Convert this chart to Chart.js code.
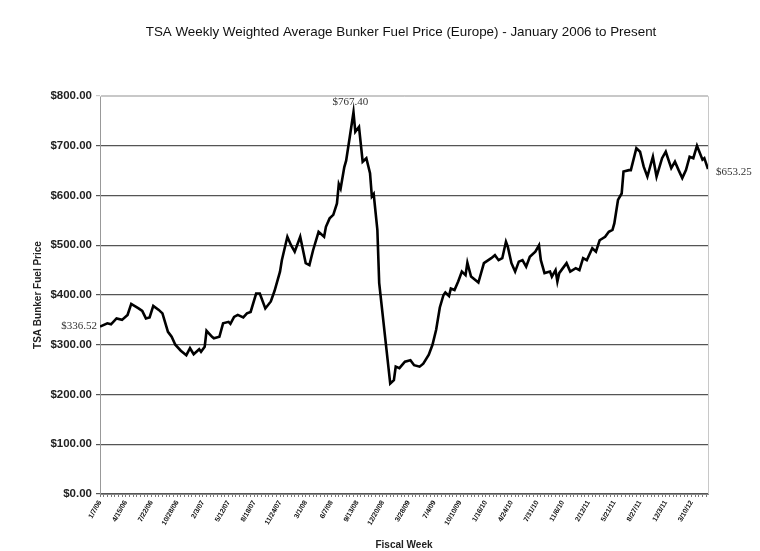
<!DOCTYPE html>
<html>
<head>
<meta charset="utf-8">
<script src="https://cdn.jsdelivr.net/npm/chart.js@4"></script>
<style>
  html, body { margin: 0; padding: 0; background: #fff; }
</style>
</head>
<body>
<canvas id="fuelChart" width="760" height="551"></canvas>
<script>
// weeks since 1/7/06 and the weighted price for that week
const weeks = [0, 4, 6, 9, 12, 15, 17, 21, 23, 25, 27, 29, 32, 34, 37, 39, 41, 44, 47, 49,
  51, 54, 55, 57, 58, 61, 62, 65, 67, 70, 71, 73, 75, 78, 80, 82, 85, 87, 90, 93,
  95, 98, 99, 102, 104, 106, 109, 112, 114, 116, 119, 122, 123, 125, 127, 129, 130, 131, 133, 134,
  136, 138, 139, 141, 143, 145, 147, 148, 149, 151, 152, 156, 158, 160, 161, 163, 166, 169, 171, 174,
  176, 179, 181, 183, 185, 187, 188, 190, 191, 193, 195, 197, 199, 200, 202, 206, 209, 211, 213, 215,
  217, 219, 221, 222, 224, 226, 228, 230, 232, 234, 237, 239, 240, 242, 245, 246, 248, 249, 250, 252,
  254, 256, 259, 261, 263, 265, 268, 270, 272, 275, 277, 279, 280, 282, 284, 285, 288, 289, 292, 294,
  296, 298, 301, 303, 306, 308, 311, 313, 315, 317, 319, 321, 323, 325, 328, 329, 331];
const prices = [336.52, 343, 341, 353, 350, 360, 382, 373, 368, 353, 355, 378, 370, 363, 326, 316, 300, 288, 279, 293,
  281, 291, 286, 296, 328, 316, 313, 316, 343, 346, 342, 356, 360, 355, 363, 366, 403, 403, 373, 387,
  408, 447, 470, 517, 500, 487, 517, 464, 460, 490, 527, 517, 537, 554, 561, 584, 623, 614, 657, 670,
  718, 767.40, 728, 738, 668, 675, 645, 598, 603, 531, 424, 289, 222, 229, 256, 253, 266, 269, 259, 256,
  262, 280, 300, 330, 375, 400, 405, 398, 413, 410, 427, 447, 440, 465, 437, 425, 464, 469, 474, 480,
  470, 474, 507, 497, 464, 447, 467, 470, 457, 477, 487, 500, 470, 444, 447, 437, 450, 427, 444, 454,
  464, 447, 454, 450, 474, 470, 494, 487, 510, 517, 527, 531, 544, 591, 604, 648, 651, 651, 695, 688,
  658, 638, 678, 638, 675, 688, 655, 668, 651, 635, 651, 678, 675, 700, 672, 675, 653.25];

const tickLabels = ['1/7/06', '4/15/06', '7/22/06', '10/28/06', '2/3/07', '5/12/07', '8/18/07', '11/24/07',
  '3/1/08', '6/7/08', '9/13/08', '12/20/08', '3/28/09', '7/4/09', '10/10/09', '1/16/10', '4/24/10',
  '7/31/10', '11/6/10', '2/12/11', '5/21/11', '8/27/11', '12/3/11', '3/10/12'];
const labelEvery = 14;
const lastWeek = 331;

const chartTitle = 'TSA Weekly Weighted Average Bunker Fuel Price (Europe) - January 2006 to Present';
const sans = "Arial, 'Liberation Sans', sans-serif";
const serif = "'Times New Roman', 'Liberation Serif', serif";

// value callouts: first point, the peak, and the latest week
const peakIdx = prices.indexOf(Math.max(...prices));
const callouts = [
  { idx: 0, align: 'right', dx: -3, dy: 0 },
  { idx: peakIdx, align: 'center', dx: -3, dy: -10 },
  { idx: prices.length - 1, align: 'left', dx: 8, dy: 3 }
];

const extras = {
  id: 'extras',
  beforeDatasetsDraw(chart) {
    const { ctx, chartArea: a } = chart;
    ctx.save();
    // light frame on top and right of the plot
    ctx.strokeStyle = '#c8c8c8';
    ctx.lineWidth = 1;
    ctx.beginPath();
    ctx.moveTo(a.left, a.top + 0.5);
    ctx.lineTo(a.right + 0.5, a.top + 0.5);
    ctx.lineTo(a.right + 0.5, a.bottom);
    ctx.stroke();
    // title, centred on the page rather than the plot
    ctx.font = '13.4px ' + sans;
    ctx.fillStyle = '#111';
    ctx.textAlign = 'center';
    ctx.textBaseline = 'middle';
    ctx.fillText(chartTitle, 401, 32);
    ctx.restore();
  },
  afterDatasetsDraw(chart) {
    const { ctx, scales: { x, y } } = chart;
    ctx.save();
    ctx.font = '11px ' + serif;
    ctx.fillStyle = '#333';
    ctx.textBaseline = 'middle';
    callouts.forEach(c => {
      const px = x.getPixelForValue(weeks[c.idx]);
      const py = y.getPixelForValue(prices[c.idx]);
      ctx.textAlign = c.align;
      ctx.fillText('$' + prices[c.idx].toFixed(2), px + c.dx, py + c.dy);
    });
    ctx.restore();
  }
};

new Chart(document.getElementById('fuelChart'), {
  type: 'line',
  data: {
    datasets: [{
      data: weeks.map((w, i) => ({ x: w, y: prices[i] })),
      borderColor: '#000',
      borderWidth: 2.6,
      pointRadius: 0,
      tension: 0,
      fill: false
    }]
  },
  options: {
    responsive: false,
    animation: false,
    layout: { padding: { left: 0, right: 52, top: 96, bottom: 0 } },
    plugins: {
      legend: { display: false },
      tooltip: { enabled: false },
      title: { display: false }
    },
    scales: {
      x: {
        type: 'linear',
        min: 0,
        max: lastWeek,
        afterBuildTicks(scale) {
          const t = [];
          for (let w = 0; w <= lastWeek; w += 2) t.push({ value: w });
          scale.ticks = t;
        },
        afterFit(scale) { scale.height = 57; },
        ticks: {
          autoSkip: false,
          minRotation: 60,
          maxRotation: 60,
          padding: 2,
          color: '#111',
          font: { family: sans, size: 7, weight: 'bold' },
          callback: v => (v % labelEvery === 0 ? tickLabels[v / labelEvery] : '')
        },
        grid: { drawOnChartArea: false, tickLength: 3, color: '#777' },
        border: { color: '#888' },
        title: {
          display: true,
          text: 'Fiscal Week',
          color: '#222',
          font: { family: sans, size: 10, weight: 'bold' },
          padding: { top: 0, bottom: 0 }
        }
      },
      y: {
        min: 0,
        max: 800,
        afterFit(scale) { scale.width = 100; },
        ticks: {
          stepSize: 100,
          padding: 4,
          color: '#222',
          font: { family: sans, size: 11.5, weight: 'bold' },
          callback: v => '$' + v.toFixed(2)
        },
        grid: {
          tickLength: 4,
          lineWidth: 1.2,
          color: c => (c.tick && c.tick.value === 800 ? '#c8c8c8' : '#555')
        },
        border: { color: '#999' },
        title: {
          display: true,
          text: 'TSA Bunker Fuel Price',
          color: '#222',
          font: { family: sans, size: 10, weight: 'bold' },
          padding: { top: 32, bottom: 0 }
        }
      }
    }
  },
  plugins: [extras]
});
</script>
</body>
</html>
